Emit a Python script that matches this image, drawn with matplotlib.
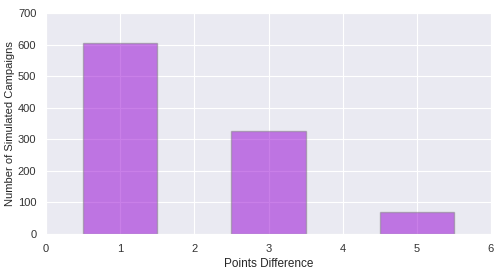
import matplotlib
matplotlib.use("Agg")
import matplotlib.pyplot as plt
import seaborn as sns

points_diff = [1, 3, 5]
campaigns = [606, 326, 71]

sns.set_style("darkgrid")
plt.rcParams['font.family'] = ['Liberation Sans', 'DejaVu Sans']

fig = plt.figure(figsize=(5.01, 2.73), dpi=100)
ax = fig.add_axes([0.092, 0.143, 0.888, 0.809])
ax.bar(points_diff, campaigns, width=1.0, color="darkviolet", alpha=0.5,
       edgecolor="gray", linewidth=1)
ax.set_xlim(0, 6)
ax.set_ylim(0, 700)
ax.tick_params(labelsize=8, colors="#333333")
ax.set_xlabel("Points Difference", fontsize=8.5, color="#262626", labelpad=3)
ax.set_ylabel("Number of Simulated Campaigns", fontsize=8, color="#262626", labelpad=2)
fig.savefig("out.png", dpi=100)
